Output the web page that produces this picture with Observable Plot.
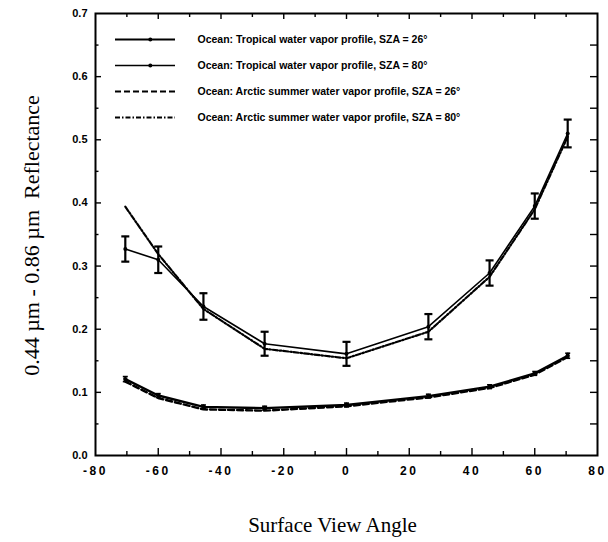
<!DOCTYPE html>
<html><head><meta charset="utf-8">
<script src="https://cdn.jsdelivr.net/npm/d3@7"></script>
<script src="https://cdn.jsdelivr.net/npm/@observablehq/plot@0.6"></script>
<style>
body{margin:0;background:#fff;}
#wrap{position:relative;width:608px;height:542px;}
#frame{position:absolute;left:0;top:0;pointer-events:none;}
#legend{position:absolute;left:115px;top:25px;}
g[aria-label="x-axis tick label"] text{letter-spacing:2.5px;}
</style></head><body><div id="wrap"><div id="chart"></div><div id="frame"></div><div id="legend"></div></div>
<script>
// ---- data ----
const angles = [-70.5, -60, -45.6, -26.1, 0, 26.1, 45.6, 60, 70.5];
const tropical26 = [0.121, 0.095, 0.077, 0.075, 0.080, 0.094, 0.109, 0.130, 0.158];
const tropical80 = [0.327, 0.310, 0.236, 0.177, 0.161, 0.204, 0.289, 0.395, 0.510];
const arctic26   = [0.117, 0.091, 0.073, 0.071, 0.078, 0.092, 0.107, 0.128, 0.156];
const arctic80   = [0.394, 0.319, 0.232, 0.169, 0.154, 0.196, 0.283, 0.390, 0.505];
const err80      = [0.020, 0.021, 0.021, 0.019, 0.019, 0.020, 0.020, 0.020, 0.022];
const err26      = [0.004, 0.003, 0.003, 0.003, 0.003, 0.003, 0.003, 0.003, 0.004];
const seriesNames = [
  "Ocean: Tropical water vapor profile, SZA = 26°",
  "Ocean: Tropical water vapor profile, SZA = 80°",
  "Ocean: Arctic summer water vapor profile, SZA = 26°",
  "Ocean: Arctic summer water vapor profile, SZA = 80°"
];
const xDomain = [-80, 80];
const yDomain = [0, 0.7];
const xTicks = [-80, -60, -40, -20, 0, 20, 40, 60, 80];
const xMinorTicks = [-70, -50, -30, -10, 10, 30, 50, 70];
const yTicks = [0.0, 0.1, 0.2, 0.3, 0.4, 0.5, 0.6, 0.7];
const yMinorTicks = [0.05, 0.15, 0.25, 0.35, 0.45, 0.55, 0.65];
const xTitle = "Surface View Angle";
const yTitle = "0.44 µm - 0.86 µm\u00a0\u00a0Reflectance";

// ---- styles ----
const seriesStyles = [
  {strokeWidth: 2.4, dash: null, marker: true},
  {strokeWidth: 1.6, dash: null, marker: true},
  {strokeWidth: 2.4, dash: "6,3", marker: false},
  {strokeWidth: 2.2, dash: "5,2,1.5,2", marker: false}
];

const W = 608, H = 542, mL = 95, mR = 11, mT = 13, mB = 87;
const pxX = (xDomain[1] - xDomain[0]) / (W - mL - mR);
const pxY = (yDomain[1] - yDomain[0]) / (H - mT - mB);

const toRows = (vals, errs) => angles.map((a, i) => ({angle: a, value: vals[i], err: errs ? errs[i] : 0}));
const sTrop26 = toRows(tropical26, err26);
const sTrop80 = toRows(tropical80, err80);
const sArc26 = toRows(arctic26);
const sArc80 = toRows(arctic80);

const capShape = {draw(ctx, size) { const w = Math.sqrt(size / Math.PI); ctx.moveTo(-w, 0); ctx.lineTo(w, 0); }};

const lineMark = (data, st) => Plot.line(data, {x: "angle", y: "value", stroke: "black",
  strokeWidth: st.strokeWidth, strokeDasharray: st.dash || undefined, strokeLinejoin: "round"});

const errMarks = (data, sw, cap) => [
  Plot.ruleX(data, {x: "angle", y1: d => d.value - d.err, y2: d => d.value + d.err, stroke: "black", strokeWidth: sw}),
  Plot.dot(data, {x: "angle", y: d => d.value - d.err, symbol: capShape, r: cap, stroke: "black", strokeWidth: sw}),
  Plot.dot(data, {x: "angle", y: d => d.value + d.err, symbol: capShape, r: cap, stroke: "black", strokeWidth: sw})
];

const xTickRules = (data, edge, dir, lenPx) => Plot.ruleX(data, {x: d => d, y1: edge, y2: edge + dir * lenPx * pxY, stroke: "black", strokeWidth: 1.4});
const yTickRules = (data, edge, dir, lenPx) => Plot.ruleY(data, {y: d => d, x1: edge, x2: edge + dir * lenPx * pxX, stroke: "black", strokeWidth: 1.4});

const common = {
  width: W, height: H,
  marginLeft: mL, marginRight: mR, marginTop: mT, marginBottom: mB,
  x: {domain: xDomain},
  y: {domain: yDomain}
};

const chart = Plot.plot({
  ...common,
  style: {fontFamily: "'Liberation Sans', Arial, sans-serif", background: "white", color: "black"},
  marks: [
    Plot.axisX({ticks: xTicks, tickSize: 0, tickPadding: 11, tickFormat: d => String(d), label: null,
      fontSize: 12, fontWeight: "bold"}),
    Plot.axisY({ticks: yTicks, tickSize: 0, tickPadding: 8, tickFormat: d => d.toFixed(1), label: null,
      fontSize: 11, fontWeight: "bold"}),
    // lower curves
    lineMark(sArc26, seriesStyles[2]),
    lineMark(sTrop26, seriesStyles[0]),
    ...errMarks(sTrop26, 1.6, 2.5),
    Plot.dot(sTrop26, {x: "angle", y: "value", r: 2.2, fill: "black"}),
    // upper curves
    lineMark(sArc80, seriesStyles[3]),
    lineMark(sTrop80, seriesStyles[1]),
    ...errMarks(sTrop80, 2.2, 4),
    Plot.dot(sTrop80, {x: "angle", y: "value", r: 2, fill: "black"}),
    Plot.text([xTitle], {frameAnchor: "bottom", dy: 70, dx: -14, lineAnchor: "middle", textAnchor: "middle",
      fontFamily: "'Liberation Serif', 'Times New Roman', serif", fontSize: 21}),
    Plot.text([yTitle], {frameAnchor: "left", rotate: -90, dx: -64, dy: 1, lineAnchor: "middle", textAnchor: "middle",
      fontFamily: "'Liberation Serif', 'Times New Roman', serif", fontSize: 22})
  ]
});
document.getElementById("chart").appendChild(chart);

// ---- frame and inward ticks: same scales, overlaid ----
const framePlot = Plot.plot({
  ...common,
  axis: null,
  style: {background: "transparent", color: "black"},
  marks: [
    Plot.frame({stroke: "black", strokeWidth: 2}),
    xTickRules(xTicks.slice(1, -1), yDomain[0], 1, 7),
    xTickRules(xMinorTicks, yDomain[0], 1, 4),
    xTickRules(xTicks.slice(1, -1), yDomain[1], -1, 6),
    xTickRules(xMinorTicks, yDomain[1], -1, 4),
    yTickRules(yTicks.slice(1, -1), xDomain[0], 1, 6),
    yTickRules(yMinorTicks, xDomain[0], 1, 3.5),
    yTickRules(yTicks.slice(1, -1), xDomain[1], -1, 7),
    yTickRules(yMinorTicks, xDomain[1], -1, 7)
  ]
});
document.getElementById("frame").appendChild(framePlot);

// ---- legend (its own small Plot with a band scale for the rows) ----
const legendPlot = Plot.plot({
  width: 360, height: 105, margin: 0,
  axis: null,
  x: {domain: [0, 1], range: [0, 60]},
  y: {type: "band", domain: seriesNames, range: [0, 105], padding: 0},
  style: {fontFamily: "'Liberation Sans', Arial, sans-serif", background: "transparent", color: "black", overflow: "visible"},
  marks: [
    seriesNames.map((n, i) => Plot.ruleY([n], {y: d => d, x1: 0, x2: 1, stroke: "black",
      strokeWidth: seriesStyles[i].strokeWidth * 0.8, strokeDasharray: seriesStyles[i].dash || undefined})),
    Plot.dot(seriesNames.filter((n, i) => seriesStyles[i].marker), {x: () => 0.58, y: d => d, r: 2, fill: "black"}),
    Plot.text(seriesNames, {x: () => 1, y: d => d, dx: 22, textAnchor: "start", fontWeight: "bold", fontSize: 10.5})
  ]
});
document.getElementById("legend").appendChild(legendPlot);
</script>
</body></html>
